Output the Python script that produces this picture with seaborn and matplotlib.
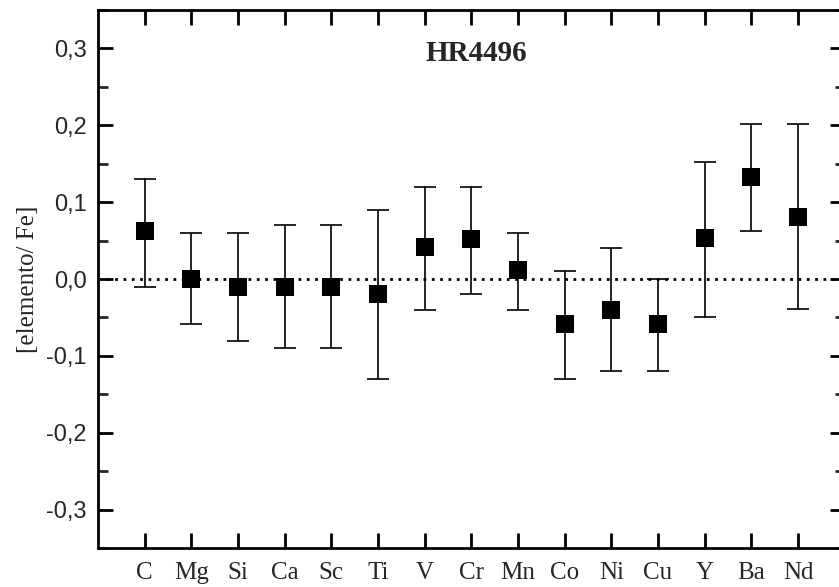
import numpy as np
import pandas as pd
import seaborn as sns
import matplotlib.pyplot as plt
from matplotlib.ticker import MultipleLocator, FuncFormatter

elements = ['C', 'Mg', 'Si', 'Ca', 'Sc', 'Ti', 'V', 'Cr', 'Mn', 'Co', 'Ni', 'Cu', 'Y', 'Ba', 'Nd']
abund = [0.063, 0.0, -0.01, -0.01, -0.01, -0.02, 0.042, 0.052, 0.012, -0.058, -0.04, -0.058, 0.053, 0.133, 0.081]
upper = [0.13, 0.06, 0.06, 0.07, 0.07, 0.09, 0.12, 0.12, 0.06, 0.01, 0.04, 0.0, 0.152, 0.202, 0.202]
lower = [-0.01, -0.058, -0.08, -0.09, -0.09, -0.13, -0.04, -0.02, -0.04, -0.13, -0.12, -0.12, -0.049, 0.062, -0.039]

df = pd.DataFrame({'el': elements, 'val': abund, 'hi': upper, 'lo': lower})
df['pos'] = np.arange(len(df))

sns.set_style("ticks")
plt.rcParams['font.family'] = ['Liberation Serif', 'DejaVu Serif']

fig = plt.figure(figsize=(8.39, 5.87), dpi=100)
ax = fig.add_axes([0.1168, 0.0664, 0.890, 0.9165])

ax.axhline(0, color='black', ls=(0, (1, 2)), lw=2, zorder=1)
ax.errorbar(df['pos'], df['val'],
            yerr=[df['val'] - df['lo'], df['hi'] - df['val']],
            fmt='none', ecolor='black', elinewidth=1.2, capsize=8, capthick=1.2, zorder=2)
sns.scatterplot(x='pos', y='val', data=df, marker='s', s=150, color='black',
                edgecolor='black', linewidth=0, ax=ax, zorder=3, legend=False)

ax.set_xlim(-1, 15)
ax.set_ylim(-0.35, 0.35)
ax.set_xticks(df['pos'])
ax.set_xticklabels(elements, fontsize=18, family=['Liberation Serif'])
ax.yaxis.set_major_locator(MultipleLocator(0.1))
ax.yaxis.set_minor_locator(MultipleLocator(0.05))
ax.yaxis.set_major_formatter(FuncFormatter(lambda v, p: ('%.1f' % v).replace('.', ',').replace('-0,0', '0,0')))
for lab in ax.get_yticklabels():
    lab.set_family(['Liberation Sans'])
    lab.set_fontsize(17)
ax.tick_params(axis='both', which='major', direction='in', length=11, width=2,
               top=True, right=True, color='black')
ax.tick_params(axis='y', which='minor', direction='in', length=7, width=2, right=True)
ax.tick_params(axis='x', pad=10)
ax.tick_params(axis='y', pad=8)
for s in ax.spines.values():
    s.set_linewidth(2)
    s.set_color('black')

ax.set_xlabel('')
ax.set_ylabel('[elemento/ Fe]', fontsize=18, labelpad=5)
ax.text(0.506, 0.92, 'HR4496', transform=ax.transAxes, ha='center', va='center',
        fontsize=21, fontweight='bold')

fig.savefig('out.png', dpi=100)
